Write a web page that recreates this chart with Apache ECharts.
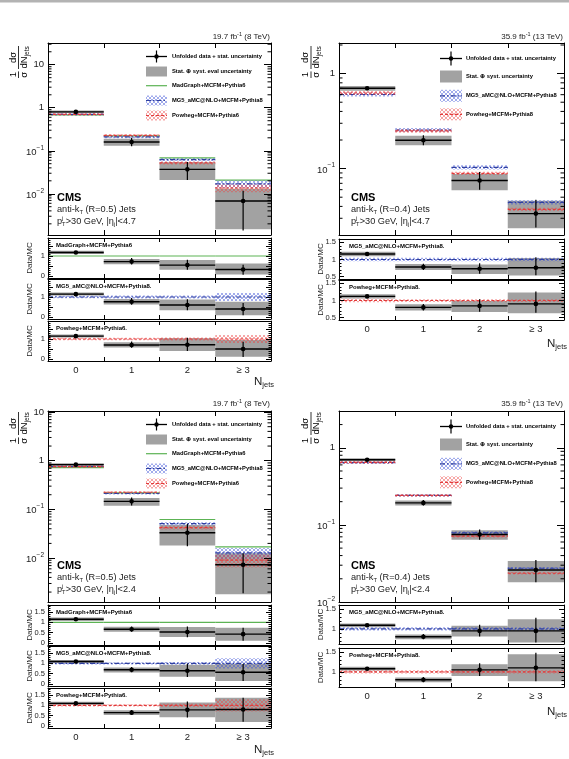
<!DOCTYPE html>
<html>
<head>
<meta charset="UTF-8">
<title>CMS - jet multiplicity</title>
<style>
  * { margin: 0; padding: 0; }
  body { background: #fff; }
  #charts { width: 569px; height: 759px; }
</style>
</head>
<body>
<div id="charts"></div>
<script src="https://cdn.jsdelivr.net/npm/echarts@6.0.0/dist/echarts.min.js"></script>
<script>
// ---- values ----
var binLabels = ['0', '1', '2', '\u2265 3'];

// 8 TeV, |eta|<4.7, anti-kT R=0.5
var a8Data      = [0.80, 0.160, 0.037, 0.0068];
var a8StatLo    = [0.77, 0.128, 0.021, 0.0014];
var a8StatHi    = [0.83, 0.200, 0.055, 0.0118];
var a8TotLo     = [0.75, 0.130, 0.021, 0.0015];
var a8TotHi     = [0.86, 0.190, 0.054, 0.0130];
var a8MadGraph  = [0.68, 0.222, 0.068, 0.0208];
var a8Mg5       = [0.70, 0.210, 0.062, 0.0170];
var a8Mg5Unc    = [0.06, 0.07, 0.08, 0.20];
var a8Powheg    = [0.70, 0.228, 0.052, 0.0136];
var a8PowhegUnc = [0.06, 0.06, 0.08, 0.20];

// 13 TeV, |eta|<4.7, anti-kT R=0.4
var b13Data      = [0.70, 0.199, 0.075, 0.0336];
var b13StatLo    = [0.675, 0.176, 0.060, 0.0240];
var b13StatHi    = [0.725, 0.224, 0.092, 0.0470];
var b13TotLo     = [0.66, 0.176, 0.059, 0.0235];
var b13TotHi     = [0.74, 0.222, 0.088, 0.0460];
var b13Mg5       = [0.603, 0.255, 0.103, 0.0442];
var b13Mg5Unc    = [0.05, 0.05, 0.05, 0.05];
var b13Powheg    = [0.625, 0.249, 0.089, 0.0373];
var b13PowhegUnc = [0.05, 0.04, 0.04, 0.04];

// 8 TeV, |eta|<2.4, anti-kT R=0.5
var c8Data      = [0.83, 0.146, 0.033, 0.0073];
var c8StatLo    = [0.80, 0.120, 0.0175, 0.0019];
var c8StatHi    = [0.86, 0.175, 0.050, 0.0125];
var c8TotLo     = [0.77, 0.119, 0.018, 0.0018];
var c8TotHi     = [0.89, 0.171, 0.048, 0.0125];
var c8MadGraph  = [0.72, 0.218, 0.062, 0.0170];
var c8Mg5       = [0.76, 0.212, 0.051, 0.0128];
var c8Mg5Unc    = [0.05, 0.05, 0.07, 0.25];
var c8Powheg    = [0.755, 0.225, 0.042, 0.0091];
var c8PowhegUnc = [0.05, 0.05, 0.08, 0.30];

// 13 TeV, |eta|<2.4, anti-kT R=0.4
var d13Data      = [0.70, 0.193, 0.075, 0.026];
var d13StatLo    = [0.68, 0.178, 0.064, 0.018];
var d13StatHi    = [0.72, 0.210, 0.087, 0.035];
var d13TotLo     = [0.67, 0.178, 0.064, 0.018];
var d13TotHi     = [0.73, 0.207, 0.085, 0.034];
var d13Mg5       = [0.642, 0.241, 0.079, 0.0274];
var d13Mg5Unc    = [0.04, 0.04, 0.04, 0.04];
var d13Powheg    = [0.648, 0.241, 0.0714, 0.0236];
var d13PowhegUnc = [0.04, 0.04, 0.04, 0.04];

// ---- helpers ----
var FONT = '"Liberation Sans", Arial, Helvetica, sans-serif';
var measure = document.createElement('canvas').getContext('2d');
function fontStr(size, weight) { return (weight || 'normal') + ' ' + size + 'px ' + FONT; }
function textW(t, size, weight) { measure.font = fontStr(size, weight); return measure.measureText(t).width; }

function hatch(color) {
  var c = document.createElement('canvas');
  c.width = 4; c.height = 4;
  var x = c.getContext('2d');
  x.strokeStyle = color; x.lineWidth = 0.8;
  x.beginPath();
  x.moveTo(0, 4); x.lineTo(4, 0);
  x.moveTo(0, 0); x.lineTo(4, 4);
  x.stroke();
  return c;
}

var GRAY = '#a2a2a2';
var LEG_FONT = 5.8, RATIO_FONT = 6.0;
var looks = {
  green: { stroke: '#5cb354', dash: null, fill: null },
  blue:  { stroke: '#2f3f9f', dash: [5, 2, 1.5, 2], fill: { image: hatch('rgba(60,80,215,0.6)'), repeat: 'repeat' } },
  red:   { stroke: '#e23a3a', dash: [3, 2], fill: { image: hatch('rgba(235,70,70,0.6)'), repeat: 'repeat' } }
};

function T(x, y, text, size, align, weight, color, rotation) {
  return { type: 'text', x: x, y: y, rotation: rotation || 0, silent: true, z: 100,
    style: { text: text, font: fontStr(size, weight), fill: color || '#000',
      align: align || 'left', verticalAlign: 'middle', textAlign: align || 'left', textVerticalAlign: 'middle' } };
}
function L(x1, y1, x2, y2, color, width, dash) {
  return { type: 'line', silent: true, z: 100, shape: { x1: x1, y1: y1, x2: x2, y2: y2 },
    style: { stroke: color || '#000', lineWidth: width || 1, lineDash: dash || null } };
}
function R(x, y, w, h, fill) {
  return { type: 'rect', silent: true, z: 100, shape: { x: x, y: y, width: w, height: h }, style: { fill: fill } };
}
function C(cx, cy, r) {
  return { type: 'circle', silent: true, z: 100, shape: { cx: cx, cy: cy, r: r }, style: { fill: '#000' } };
}
// text with sub/superscripts laid out by measured widths
function richLine(x, y, segs, align, color) {
  var total = 0;
  segs.forEach(function (sg) { if (sg.adv !== false) total += textW(sg.t, sg.s, sg.w); });
  var cx = align === 'right' ? x - total : x;
  var kids = segs.map(function (sg) {
    var el = T(cx, y + (sg.dy || 0), sg.t, sg.s, 'left', sg.w, color);
    if (sg.adv !== false) cx += textW(sg.t, sg.s, sg.w);
    return el;
  });
  return { type: 'group', silent: true, children: kids };
}
function yTitle(bx, by) {
  var s = 9.5, wdN = textW('dN', s);
  return { type: 'group', x: bx, y: by, rotation: Math.PI / 2, silent: true, children: [
    T(3.3, -5.3, '1', s, 'center'),
    L(0, 0, 6.6, 0, '#000', 0.8),
    T(3.3, 5.8, '\u03c3', s, 'center'),
    T(20.5, -5.3, 'd\u03c3', s, 'center'),
    L(9, 0, 32, 0, '#000', 0.8),
    T(9.5, 5.8, 'dN', s, 'left'),
    T(9.5 + wdN, 8.5, 'jets', 6.5, 'left')
  ] };
}

function powLabel(v) {
  var e = Math.log(v) / Math.LN10, r = Math.round(e);
  if (Math.abs(e - r) > 1e-4) return '';
  if (r === 0) return '1';
  if (r === 1) return '10';
  return '{b|10}{s|\u2212' + (-r) + '}';
}
function ratioLabel(step) {
  return function (v) {
    var k = v / step;
    return Math.abs(k - Math.round(k)) < 1e-6 ? String(+v.toFixed(2)) : '';
  };
}

var grids = [], xAxes = [], yAxes = [], series = [], graphics = [];

function addGrid(left, top, width, height) {
  grids.push({ left: left, top: top, width: width, height: height, containLabel: false, outerBoundsMode: 'none' });
  return grids.length - 1;
}
function addAxes(g, yAxis, showX, tickLen) {
  var base = { type: 'category', data: binLabels, gridIndex: g, boundaryGap: true, z: 10,
    axisLine: { show: true, onZero: false, lineStyle: { color: '#000', width: 1 } },
    axisTick: { show: true, inside: true, length: tickLen, lineStyle: { color: '#000', width: 1 } },
    splitLine: { show: false } };
  xAxes.push(Object.assign({}, base, { position: 'bottom',
    axisLabel: { show: showX, interval: 0, color: '#222', fontFamily: FONT, fontSize: 9.5, margin: 4 } }));
  xAxes.push(Object.assign({}, base, { position: 'top', axisLabel: { show: false } }));
  yAxes.push(Object.assign({}, yAxis, { gridIndex: g, position: 'left' }));
  yAxes.push(Object.assign({}, yAxis, { gridIndex: g, position: 'right', axisLabel: { show: false } }));
}
function logY(min, max) {
  return { type: 'log', logBase: 10, min: min, max: max, z: 10,
    axisLine: { show: true, onZero: false, lineStyle: { color: '#000' } },
    axisTick: { show: true, inside: true, length: 7, lineStyle: { color: '#000' } },
    splitLine: { show: false },
    axisLabel: { color: '#222', fontFamily: FONT, fontSize: 9.5, margin: 4, formatter: powLabel,
      rich: {
        b: { fontSize: 9.5, fontFamily: FONT, color: '#222', padding: [3, 0, 0, 0] },
        s: { fontSize: 6.5, fontFamily: FONT, color: '#222', verticalAlign: 'top' }
      } } };
}
function ratioY(p) {
  return { type: 'value', min: p.rMin, max: p.rMax, splitNumber: p.rSplit, z: 10,
    axisLine: { show: true, onZero: false, lineStyle: { color: '#000' } },
    axisTick: { show: true, inside: true, length: 5, lineStyle: { color: '#000' } },
    minorTick: { show: true, splitNumber: 5, length: 2.5, lineStyle: { color: '#000' } },
    splitLine: { show: false },
    axisLabel: { color: '#222', fontFamily: FONT, fontSize: 7.5, margin: 3, formatter: ratioLabel(p.rStep) } };
}

function boxSeries(g, lo, hi) {
  return { type: 'custom', xAxisIndex: 2 * g, yAxisIndex: 2 * g, silent: true, z: 2,
    data: lo.map(function (v, i) { return [i, v, hi[i]]; }),
    renderItem: function (params, api) {
      var i = api.value(0), w = api.size([1, 0])[0];
      var a = api.coord([i, api.value(1)]), b = api.coord([i, api.value(2)]);
      return { type: 'rect', shape: { x: a[0] - w / 2, y: b[1], width: w, height: a[1] - b[1] }, style: { fill: GRAY } };
    } };
}
function mcSeries(g, vals, unc, lookName) {
  var lk = looks[lookName];
  return { type: 'custom', xAxisIndex: 2 * g, yAxisIndex: 2 * g, silent: true, z: 3,
    data: vals.map(function (v, i) { var u = unc ? unc[i] : 0; return [i, v, v * (1 - u), v * (1 + u)]; }),
    renderItem: function (params, api) {
      var i = api.value(0), w = api.size([1, 0])[0];
      var c = api.coord([i, api.value(1)]), lo = api.coord([i, api.value(2)]), hi = api.coord([i, api.value(3)]);
      var kids = [];
      if (lk.fill) kids.push({ type: 'rect', shape: { x: c[0] - w / 2, y: hi[1], width: w, height: lo[1] - hi[1] }, style: { fill: lk.fill } });
      kids.push({ type: 'line', shape: { x1: c[0] - w / 2, y1: c[1], x2: c[0] + w / 2, y2: c[1] },
        style: { stroke: lk.stroke, lineWidth: 1.2, lineDash: lk.dash } });
      return { type: 'group', children: kids };
    } };
}
function dataSeries(g, vals, lo, hi) {
  return { type: 'custom', xAxisIndex: 2 * g, yAxisIndex: 2 * g, silent: true, z: 4,
    data: vals.map(function (v, i) { return [i, v, lo[i], hi[i]]; }),
    renderItem: function (params, api) {
      var i = api.value(0), w = api.size([1, 0])[0];
      var c = api.coord([i, api.value(1)]), l = api.coord([i, api.value(2)]), h = api.coord([i, api.value(3)]);
      return { type: 'group', children: [
        { type: 'line', shape: { x1: c[0] - w / 2, y1: c[1], x2: c[0] + w / 2, y2: c[1] }, style: { stroke: '#000', lineWidth: 1.4 } },
        { type: 'line', shape: { x1: c[0], y1: l[1], x2: c[0], y2: h[1] }, style: { stroke: '#000', lineWidth: 1.2 } },
        { type: 'circle', shape: { cx: c[0], cy: c[1], r: 2.3 }, style: { fill: '#000' } }
      ] };
    } };
}
// minor ticks of a log axis at 2..9 x 10^n, on both frame sides
function logMinorSeries(g, min, max) {
  var vals = [];
  for (var e = Math.floor(Math.log10(min)); e <= Math.ceil(Math.log10(max)); e++) {
    for (var k = 2; k <= 9; k++) {
      var v = k * Math.pow(10, e);
      if (v > min && v < max) vals.push([0, v]);
    }
  }
  return { type: 'custom', xAxisIndex: 2 * g, yAxisIndex: 2 * g, silent: true, z: 10, data: vals,
    renderItem: function (params, api) {
      var y = api.coord([0, api.value(1)])[1], cs = params.coordSys;
      return { type: 'group', children: [
        { type: 'line', shape: { x1: cs.x, y1: y, x2: cs.x + 3.5, y2: y }, style: { stroke: '#000', lineWidth: 1 } },
        { type: 'line', shape: { x1: cs.x + cs.width - 3.5, y1: y, x2: cs.x + cs.width, y2: y }, style: { stroke: '#000', lineWidth: 1 } }
      ] };
    } };
}

// ---- panels ----
var panels = [
  { side: 'left', left: 48, width: 223, top: 43, height: 192, yMin: 0.0011, yMax: 32,
    lumi: '19.7', energy: '8 TeV', radius: '0.5', eta: '4.7', syst: 'Stat. \u2295 syst. eval uncertainty',
    data: a8Data, statLo: a8StatLo, statHi: a8StatHi, totLo: a8TotLo, totHi: a8TotHi,
    mcs: [
      { label: 'MadGraph+MCFM+Pythia6', ratioLabel: 'MadGraph+MCFM+Pythia6', vals: a8MadGraph, unc: null, look: 'green' },
      { label: 'MG5_aMC@NLO+MCFM+Pythia8', ratioLabel: 'MG5_aMC@NLO+MCFM+Pythia8.', vals: a8Mg5, unc: a8Mg5Unc, look: 'blue' },
      { label: 'Powheg+MCFM+Pythia6', ratioLabel: 'Powheg+MCFM+Pythia6.', vals: a8Powheg, unc: a8PowhegUnc, look: 'red' } ],
    ratioTops: [238, 279, 321], ratioH: 40, rMin: -0.1, rMax: 1.9, rSplit: 4, rStep: 1,
    titleX: 18.5, titleY: 78, lumiY: 37, njetsY: 382 },
  { side: 'right', left: 339, width: 225, top: 43, height: 192, yMin: 0.02, yMax: 2.1,
    lumi: '35.9', energy: '13 TeV', radius: '0.4', eta: '4.7', syst: 'Stat. \u2295 syst. uncertainty',
    data: b13Data, statLo: b13StatLo, statHi: b13StatHi, totLo: b13TotLo, totHi: b13TotHi,
    mcs: [
      { label: 'MG5_aMC@NLO+MCFM+Pythia8', ratioLabel: 'MG5_aMC@NLO+MCFM+Pythia8.', vals: b13Mg5, unc: b13Mg5Unc, look: 'blue' },
      { label: 'Powheg+MCFM+Pythia8', ratioLabel: 'Powheg+MCFM+Pythia8.', vals: b13Powheg, unc: b13PowhegUnc, look: 'red' } ],
    ratioTops: [239, 280], ratioH: 40, rMin: 0.43, rMax: 1.6, rSplit: 2, rStep: 0.5,
    titleX: 311, titleY: 78, lumiY: 37, njetsY: 344 },
  { side: 'left', left: 48, width: 223, top: 411, height: 191, yMin: 0.00125, yMax: 10.5,
    lumi: '19.7', energy: '8 TeV', radius: '0.5', eta: '2.4', syst: 'Stat. \u2295 syst. eval uncertainty',
    data: c8Data, statLo: c8StatLo, statHi: c8StatHi, totLo: c8TotLo, totHi: c8TotHi,
    mcs: [
      { label: 'MadGraph+MCFM+Pythia6', ratioLabel: 'MadGraph+MCFM+Pythia6', vals: c8MadGraph, unc: null, look: 'green' },
      { label: 'MG5_aMC@NLO+MCFM+Pythia8', ratioLabel: 'MG5_aMC@NLO+MCFM+Pythia8.', vals: c8Mg5, unc: c8Mg5Unc, look: 'blue' },
      { label: 'Powheg+MCFM+Pythia6', ratioLabel: 'Powheg+MCFM+Pythia6.', vals: c8Powheg, unc: c8PowhegUnc, look: 'red' } ],
    ratioTops: [605, 646, 688], ratioH: 40, rMin: -0.1, rMax: 1.85, rSplit: 4, rStep: 0.5,
    titleX: 18.5, titleY: 444, lumiY: 404, njetsY: 750 },
  { side: 'right', left: 339, width: 225, top: 411, height: 191, yMin: 0.01, yMax: 3,
    lumi: '35.9', energy: '13 TeV', radius: '0.4', eta: '2.4', syst: 'Stat. \u2295 syst. uncertainty',
    data: d13Data, statLo: d13StatLo, statHi: d13StatHi, totLo: d13TotLo, totHi: d13TotHi,
    mcs: [
      { label: 'MG5_aMC@NLO+MCFM+Pythia8', ratioLabel: 'MG5_aMC@NLO+MCFM+Pythia8.', vals: d13Mg5, unc: d13Mg5Unc, look: 'blue' },
      { label: 'Powheg+MCFM+Pythia8', ratioLabel: 'Powheg+MCFM+Pythia8.', vals: d13Powheg, unc: d13PowhegUnc, look: 'red' } ],
    ratioTops: [605, 648], ratioH: 39, rMin: 0.62, rMax: 1.6, rSplit: 2, rStep: 0.5,
    titleX: 311, titleY: 444, lumiY: 404, njetsY: 712 }
];

function legendGraphics(p) {
  var isLeft = p.side === 'left';
  var rows = isLeft ? [13.5, 28.5, 42.7, 57.5, 72.5] : [15.5, 33.5, 52.8, 71.3];
  var sx = p.left + (isLeft ? 98 : 101), sw = isLeft ? 21 : 22, sh = isLeft ? 10 : 12;
  var tx = p.left + (isLeft ? 124 : 127);
  var out = [];
  var y = p.top + rows[0];
  out.push(L(sx, y, sx + sw, y, '#000', 1.3));
  out.push(L(sx + sw / 2, y - sh / 2 - 1, sx + sw / 2, y + sh / 2 + 1, '#000', 1.2));
  out.push(C(sx + sw / 2, y, 2.2));
  out.push(T(tx, y, 'Unfolded data + stat. uncertainty', LEG_FONT, 'left', 'bold'));
  y = p.top + rows[1];
  out.push(R(sx, y - sh / 2, sw, sh, GRAY));
  out.push(T(tx, y, p.syst, LEG_FONT, 'left', 'bold'));
  p.mcs.forEach(function (m, k) {
    var yy = p.top + rows[2 + k], lk = looks[m.look];
    if (lk.fill) out.push(R(sx, yy - sh / 2, sw, sh, lk.fill));
    out.push(L(sx, yy, sx + sw, yy, lk.stroke, 1.2, lk.dash));
    out.push(T(tx, yy, m.label, LEG_FONT, 'left', 'bold'));
  });
  return out;
}

function panelGraphics(p) {
  var isLeft = p.side === 'left';
  var right = p.left + p.width;
  var out = [];
  out.push(richLine(right - 1, p.lumiY, [{ t: p.lumi + ' fb', s: 8 }, { t: '-1', s: 5.5, dy: -3 }, { t: ' (' + p.energy + ')', s: 8 }], 'right', '#222'));
  out.push(yTitle(p.titleX, p.titleY));
  var cx = p.left + (isLeft ? 9 : 12);
  out.push(richLine(cx, p.top + 155, [{ t: 'CMS', s: 11, w: 'bold' }], 'left'));
  out.push(richLine(cx, p.top + 166.5, [{ t: 'anti-k', s: 9.2 }, { t: 'T', s: 5.8, dy: 2.6 }, { t: ' (R=' + p.radius + ') Jets', s: 9.2 }], 'left', '#222'));
  out.push(richLine(cx, p.top + 178.5, [{ t: 'p', s: 9.2 }, { t: 'j', s: 5.8, dy: -3.2, adv: false }, { t: 'T', s: 5.8, dy: 2.6 },
    { t: '>30 GeV, |\u03b7', s: 9.2 }, { t: 'j', s: 5.8, dy: 2.6 }, { t: '|<' + p.eta, s: 9.2 }], 'left', '#222'));
  out = out.concat(legendGraphics(p));
  p.ratioTops.forEach(function (t, k) {
    out.push(T(p.left + (isLeft ? 8 : 10), t + 7, p.mcs[k].ratioLabel, RATIO_FONT, 'left', 'bold'));
    out.push(T(isLeft ? 30 : 321, t + p.ratioH / 2, 'Data/MC', 8, 'center', 'normal', '#222', Math.PI / 2));
  });
  out.push(richLine(isLeft ? 274 : 567, p.njetsY, [{ t: 'N', s: 11.5 }, { t: 'jets', s: 7.5, dy: 3 }], 'right', '#222'));
  return out;
}

panels.forEach(function (p) {
  var g = addGrid(p.left, p.top, p.width, p.height);
  addAxes(g, logY(p.yMin, p.yMax), false, 5);
  series.push(logMinorSeries(g, p.yMin, p.yMax));
  series.push(boxSeries(g, p.totLo, p.totHi));
  p.mcs.forEach(function (m) { series.push(mcSeries(g, m.vals, m.unc, m.look)); });
  series.push(dataSeries(g, p.data, p.statLo, p.statHi));

  p.ratioTops.forEach(function (top, k) {
    var m = p.mcs[k];
    var div = function (arr) { return arr.map(function (v, i) { return v / m.vals[i]; }); };
    var gr = addGrid(p.left, top, p.width, p.ratioH);
    addAxes(gr, ratioY(p), k === p.ratioTops.length - 1, 4);
    series.push(boxSeries(gr, div(p.totLo), div(p.totHi)));
    series.push(mcSeries(gr, div(m.vals), m.unc, m.look));
    series.push(dataSeries(gr, div(p.data), div(p.statLo), div(p.statHi)));
  });
  graphics = graphics.concat(panelGraphics(p));
});

graphics.push(R(0, 0, 569, 2.5, '#b3b3b3'));

var mycharts = echarts.init(document.getElementById('charts'), null, { renderer: 'canvas' });
mycharts.setOption({
  animation: false,
  backgroundColor: '#fff',
  grid: grids,
  xAxis: xAxes,
  yAxis: yAxes,
  series: series,
  graphic: { elements: graphics }
});
</script>
</body>
</html>
